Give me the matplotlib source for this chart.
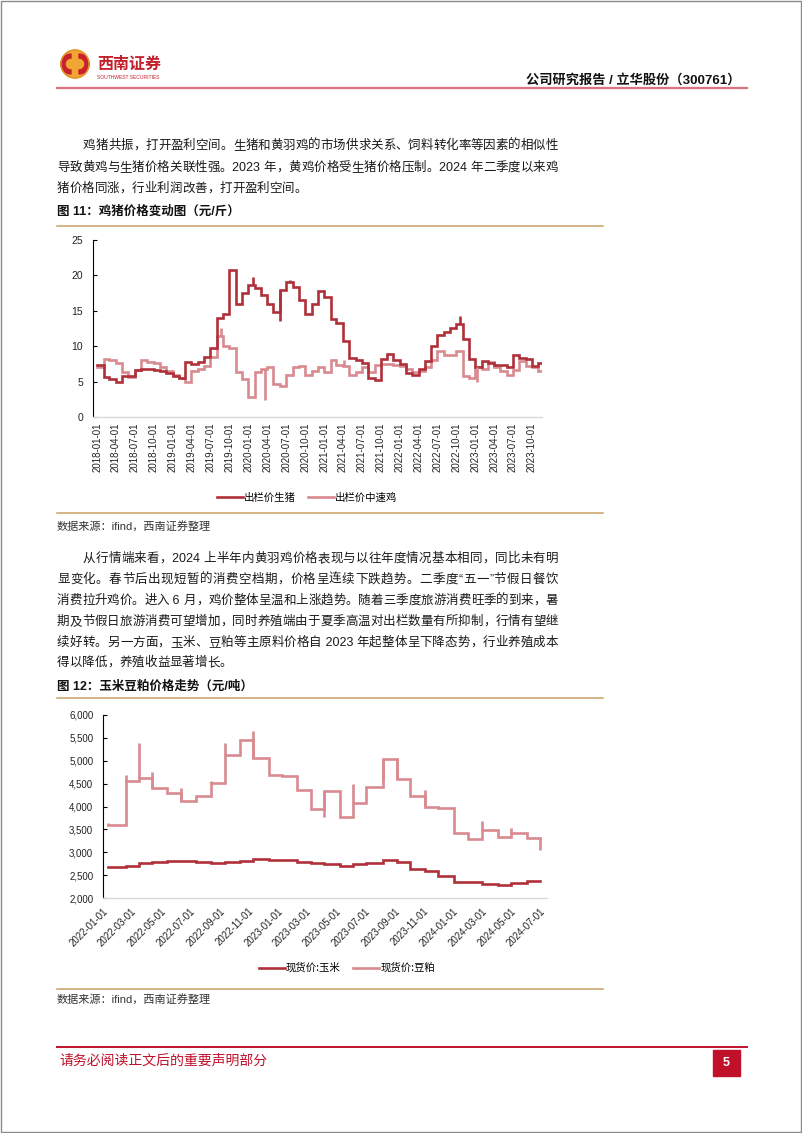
import numpy as np
import pandas as pd
import matplotlib
matplotlib.use('Agg')
from matplotlib import pyplot as plt
import matplotlib.dates as mdates
from matplotlib.patches import Rectangle, Circle, Wedge
from matplotlib.ticker import FuncFormatter

plt.rcParams['font.family'] = ['Liberation Sans', 'Noto Sans CJK SC', 'DejaVu Sans']
CJK = ['Noto Sans CJK SC', 'DejaVu Sans']

# ---------------- 数据 ----------------
# 图11: 鸡猪价格 (元/斤), 月度, 2018-01 ~ 2023-11
pig_months = pd.date_range('2018-01-01', periods=71, freq='MS')
pig_price = [7.3, 5.7, 5.3, 5.0, 5.8, 5.8, 6.6, 6.8, 6.8, 6.7, 6.5, 6.2,
             5.8, 5.5, 7.7, 7.5, 7.7, 8.5, 9.8, 14.0, 14.6, 20.8, 16.0, 17.5,
             18.6, 18.2, 17.3, 16.0, 14.8, 18.0, 19.0, 18.4, 16.5, 14.5, 16.0, 17.8,
             17.0, 13.8, 13.3, 10.8, 8.4, 8.0, 7.6, 5.5, 5.2, 8.2, 8.9, 8.0,
             7.5, 6.2, 6.0, 6.8, 7.9, 10.0, 11.6, 12.0, 12.6, 13.2, 11.0, 8.2,
             7.0, 7.9, 7.6, 7.4, 7.3, 7.0, 8.7, 8.4, 8.2, 7.2, 7.6]
chicken_price = [7.0, 8.2, 8.0, 7.6, 6.3, 5.7, 6.7, 8.0, 7.7, 7.6, 7.0, 6.5,
                 6.0, 5.5, 5.0, 6.5, 6.8, 7.2, 8.5, 11.5, 10.0, 9.8, 6.3, 5.3,
                 2.8, 6.4, 6.8, 7.0, 4.6, 4.4, 6.0, 7.0, 7.2, 6.0, 6.5, 7.0,
                 6.3, 8.0, 7.3, 7.2, 6.0, 6.3, 7.0, 6.3, 7.3, 7.5, 7.5, 7.3,
                 7.2, 6.8, 6.4, 6.5, 7.0, 8.0, 9.3, 8.8, 8.8, 9.3, 5.8, 5.5,
                 7.0, 6.8, 7.7, 7.0, 6.5, 6.0, 6.7, 7.9, 7.2, 7.0, 6.5]
pig_end = '2023-11-18'
pig_spike_dates = ['2020-01-25', '2020-06-03', '2022-10-18', '2020-07-20']
pig_spike_values = [19.8, 13.5, 14.2, 19.4]
chicken_spike_dates = ['2019-08-20', '2020-03-20', '2023-01-08', '2021-04-05']
chicken_spike_values = [12.5, 2.4, 4.9, 8.0]

fig11_ticks = pd.date_range('2018-01-01', '2023-10-01', freq='QS')

# 图12: 玉米豆粕价格 (元/吨)
meal_dates = ['2022-01-11', '2022-02-18', '2022-03-17', '2022-04-14', '2022-05-15',
              '2022-06-13', '2022-07-14', '2022-08-14', '2022-09-13', '2022-10-13',
              '2022-11-10', '2022-12-13', '2023-01-10', '2023-02-10', '2023-03-10',
              '2023-04-07', '2023-05-10', '2023-06-07', '2023-07-04', '2023-08-07',
              '2023-09-07', '2023-10-04', '2023-11-04', '2023-12-01', '2024-01-04',
              '2024-02-01', '2024-03-01', '2024-04-04', '2024-05-01', '2024-06-04']
meal_end = '2024-07-01'
corn_price = [2670, 2700, 2760, 2790, 2810, 2810, 2780, 2760, 2790, 2800,
              2850, 2830, 2820, 2790, 2760, 2740, 2690, 2750, 2770, 2820,
              2790, 2630, 2600, 2490, 2340, 2360, 2310, 2290, 2320, 2380]
soymeal_price = [3600, 4560, 4620, 4400, 4300, 4120, 4230, 4520, 5130, 5450,
                 5060, 4690, 4660, 4360, 3950, 4330, 3760, 4080, 4430, 5030,
                 4600, 4230, 3980, 3960, 3420, 3280, 3480, 3330, 3430, 3310]
soymeal_spike_dates = ['2022-01-11', '2022-02-18', '2022-03-17', '2022-04-14',
                       '2022-06-13', '2022-08-14', '2022-09-13', '2022-11-10',
                       '2023-04-07', '2023-06-07', '2023-08-07', '2023-09-07',
                       '2023-11-04', '2024-03-01', '2024-05-01', '2024-06-30']
soymeal_spike_values = [3640, 4680, 5380, 4750, 4400, 4560, 5380, 5650,
                        3780, 4500, 4560, 5060, 4370, 3690, 3540, 3050]

fig12_ticks = pd.date_range('2022-01-01', '2024-07-01', freq='2MS')

para1 = ['鸡猪共振，打开盈利空间。生猪和黄羽鸡的市场供求关系、饲料转化率等因素的相似性',
         '导致黄鸡与生猪价格关联性强。2023 年，黄鸡价格受生猪价格压制。2024 年二季度以来鸡',
         '猪价格同涨，行业利润改善，打开盈利空间。']
para2 = ['从行情端来看，2024 上半年内黄羽鸡价格表现与以往年度情况基本相同，同比未有明',
         '显变化。春节后出现短暂的消费空档期，价格呈连续下跌趋势。二季度“五一”节假日餐饮',
         '消费拉升鸡价。进入 6 月，鸡价整体呈温和上涨趋势。随着三季度旅游消费旺季的到来，暑',
         '期及节假日旅游消费可望增加，同时养殖端由于夏季高温对出栏数量有所抑制，行情有望继',
         '续好转。另一方面，玉米、豆粕等主原料价格自 2023 年起整体呈下降态势，行业养殖成本',
         '得以降低，养殖收益显著增长。']

DARK = '#B0303A'
PINK = '#D98A8F'
TAN = '#C9A165'
RED = '#C0102A'
W, H = 802, 1133

fig = plt.figure(figsize=(W / 100, H / 100), dpi=100)
fig.patch.set_facecolor('white')

# 页面层: 像素坐标
page = fig.add_axes([0, 0, 1, 1])
page.set_xlim(0, W)
page.set_ylim(H, 0)
page.axis('off')
renderer = fig.canvas.get_renderer()

page.add_patch(Rectangle((0.5, 0.5), W - 1.5, H - 1.5, fill=False, ec='#8a8a8a', lw=1))


def tokens(s):
    out, buf = [], ''
    for ch in s:
        if ord(ch) < 128:
            buf += ch
        else:
            if buf:
                out.append(buf)
                buf = ''
            out.append(ch)
    if buf:
        out.append(buf)
    return out


def put_line(s, x0, x1, y, justify=True, **kw):
    # 两端对齐, 逐字放置, 按基线对齐避免上下抖动
    toks = tokens(s)
    texts = [page.text(0, y + 4, t, va='baseline', ha='left', **kw) for t in toks]
    widths = [t.get_window_extent(renderer).width for t in texts]
    gap = (x1 - x0 - sum(widths)) / (len(toks) - 1) if justify else 0
    x = x0
    for t, w in zip(texts, widths):
        t.set_x(x)
        x += w + gap


# --- 页眉 ---
page.add_patch(Circle((75, 64), 14, color='#EFA632', zorder=2))
page.add_patch(Wedge((71, 64), 10, 90, 270, width=4, color='#C8202C', zorder=3))
page.add_patch(Wedge((79, 64), 10, 270, 90, width=4, color='#C8202C', zorder=3))
page.add_patch(Circle((75, 64), 14, fill=False, ec='#E0962A', lw=1, zorder=4))
page.text(97, 64, '西南证券', fontsize=11.5, fontweight='bold', color='#C41E2A',
          family=CJK, va='center')
page.text(97, 77.5, 'SOUTHWEST SECURITIES', fontsize=3.6, color='#C41E2A', va='center')
page.text(740, 80, '公司研究报告 / 立华股份（300761）', fontsize=9.5, fontweight='bold',
          ha='right', va='center', color='#111111')
page.plot([57, 747], [88, 88], color='#D9747E', lw=1.6)

# --- 正文 ---
body = dict(fontsize=9, color='#1a1a1a')
for i, (line, y) in enumerate(zip(para1, [145, 167, 188])):
    put_line(line, 83 if i == 0 else 57, 558, y, justify=(i < len(para1) - 1), **body)
for i, (line, y) in enumerate(zip(para2, [558, 579, 600, 621, 642, 662])):
    put_line(line, 83 if i == 0 else 57, 558, y, justify=(i < len(para2) - 1), **body)

# --- 图标题与分隔线 ---
page.text(57, 212, '图 11：鸡猪价格变动图（元/斤）', fontsize=9, fontweight='bold',
          va='center', color='#111111')
page.plot([57, 603], [226, 226], color=TAN, lw=1.1)
page.plot([57, 603], [513, 513], color=TAN, lw=1.1)
page.text(57, 526, '数据来源：ifind，西南证券整理', fontsize=8, va='center', color='#333333')

page.text(57, 687, '图 12：玉米豆粕价格走势（元/吨）', fontsize=9, fontweight='bold',
          va='center', color='#111111')
page.plot([57, 603], [698, 698], color=TAN, lw=1.1)
page.plot([57, 603], [989, 989], color=TAN, lw=1.1)
page.text(57, 999, '数据来源：ifind，西南证券整理', fontsize=8, va='center', color='#333333')

# --- 页脚 ---
page.plot([57, 747], [1047, 1047], color=RED, lw=1.4)
page.text(59, 1061, '请务必阅读正文后的重要声明部分', fontsize=10, color=RED,
          family=CJK, va='center')
page.add_patch(Rectangle((713, 1050), 27, 26, color='#C0102A'))
page.text(726.5, 1063, '5', fontsize=9, fontweight='bold', color='white',
          ha='center', va='center')


def step_series(ax, dates, values, end, color, label):
    x = list(pd.to_datetime(dates)) + [pd.Timestamp(end)]
    y = list(values) + [values[-1]]
    ax.plot(x, y, drawstyle='steps-post', color=color, lw=1.9, label=label,
            solid_joinstyle='miter')


def spikes(ax, dates, values, s_dates, s_values, color):
    d = pd.to_datetime(dates)
    sd = pd.to_datetime(s_dates)
    idx = np.clip(d.searchsorted(sd, side='right') - 1, 0, len(values) - 1)
    base = [values[i] for i in idx]
    ax.vlines(sd, base, s_values, color=color, lw=1.9)


def style_axes(ax):
    for s in ['top', 'right']:
        ax.spines[s].set_visible(False)
    ax.spines['left'].set_color('#000000')
    ax.spines['left'].set_linewidth(0.8)
    ax.spines['bottom'].set_color('#d9d9d9')
    ax.spines['bottom'].set_linewidth(1.0)
    ax.tick_params(axis='y', direction='in', length=3, width=0.8, pad=7,
                   labelsize=7.5, labelcolor='#222222')
    ax.tick_params(axis='x', length=0, labelsize=7, labelcolor='#222222')


# --- 图11 ---
ax1 = fig.add_axes([93 / W, 1 - 417 / H, (542 - 93) / W, (417 - 240) / H])
step_series(ax1, pig_months, pig_price, pig_end, DARK, '出栏价生猪')
step_series(ax1, pig_months, chicken_price, pig_end, PINK, '出栏价中速鸡')
spikes(ax1, pig_months, pig_price, pig_spike_dates, pig_spike_values, DARK)
spikes(ax1, pig_months, chicken_price, chicken_spike_dates, chicken_spike_values, PINK)
ax1.lines[1].set_zorder(1.5)
ax1.set_ylim(0, 25)
ax1.set_yticks([0, 5, 10, 15, 20, 25])
ax1.set_xlim(pd.Timestamp('2017-12-12'), pd.Timestamp('2023-11-18'))
ax1.set_xticks(fig11_ticks)
ax1.xaxis.set_major_formatter(mdates.DateFormatter('%Y-%m-%d'))
style_axes(ax1)
ax1.tick_params(axis='x', pad=4)
for lb in ax1.get_xticklabels():
    lb.set_rotation(90)
ax1.legend(loc='center', bbox_to_anchor=(307 / W, 1 - 498 / H),
           bbox_transform=fig.transFigure, ncol=2, frameon=False,
           handlelength=2.5, handletextpad=0.1, columnspacing=1.2,
           prop={'family': CJK, 'size': 7.5})

# --- 图12 ---
ax2 = fig.add_axes([103 / W, 1 - 898 / H, (547 - 103) / W, (898 - 715) / H])
step_series(ax2, meal_dates, corn_price, meal_end, DARK, '现货价:玉米')
step_series(ax2, meal_dates, soymeal_price, meal_end, PINK, '现货价:豆粕')
spikes(ax2, meal_dates, soymeal_price, soymeal_spike_dates, soymeal_spike_values, PINK)
ax2.set_ylim(2000, 6000)
ax2.set_yticks(np.arange(2000, 6001, 500))
ax2.yaxis.set_major_formatter(FuncFormatter(lambda v, _: f'{v:,.0f}'))
ax2.set_xlim(pd.Timestamp('2022-01-01'), pd.Timestamp('2024-07-15'))
ax2.set_xticks(fig12_ticks)
ax2.xaxis.set_major_formatter(mdates.DateFormatter('%Y-%m-%d'))
style_axes(ax2)
ax2.tick_params(axis='y', labelsize=7)
ax2.tick_params(axis='x', pad=6)
for lb in ax2.get_xticklabels():
    lb.set_rotation(45)
    lb.set_ha('right')
    lb.set_rotation_mode('anchor')
ax2.legend(loc='center', bbox_to_anchor=(347 / W, 1 - 968 / H),
           bbox_transform=fig.transFigure, ncol=2, frameon=False,
           handlelength=2.5, handletextpad=0.1, columnspacing=1.2,
           prop={'family': CJK, 'size': 7.5})

fig.savefig('out.png', dpi=100)
